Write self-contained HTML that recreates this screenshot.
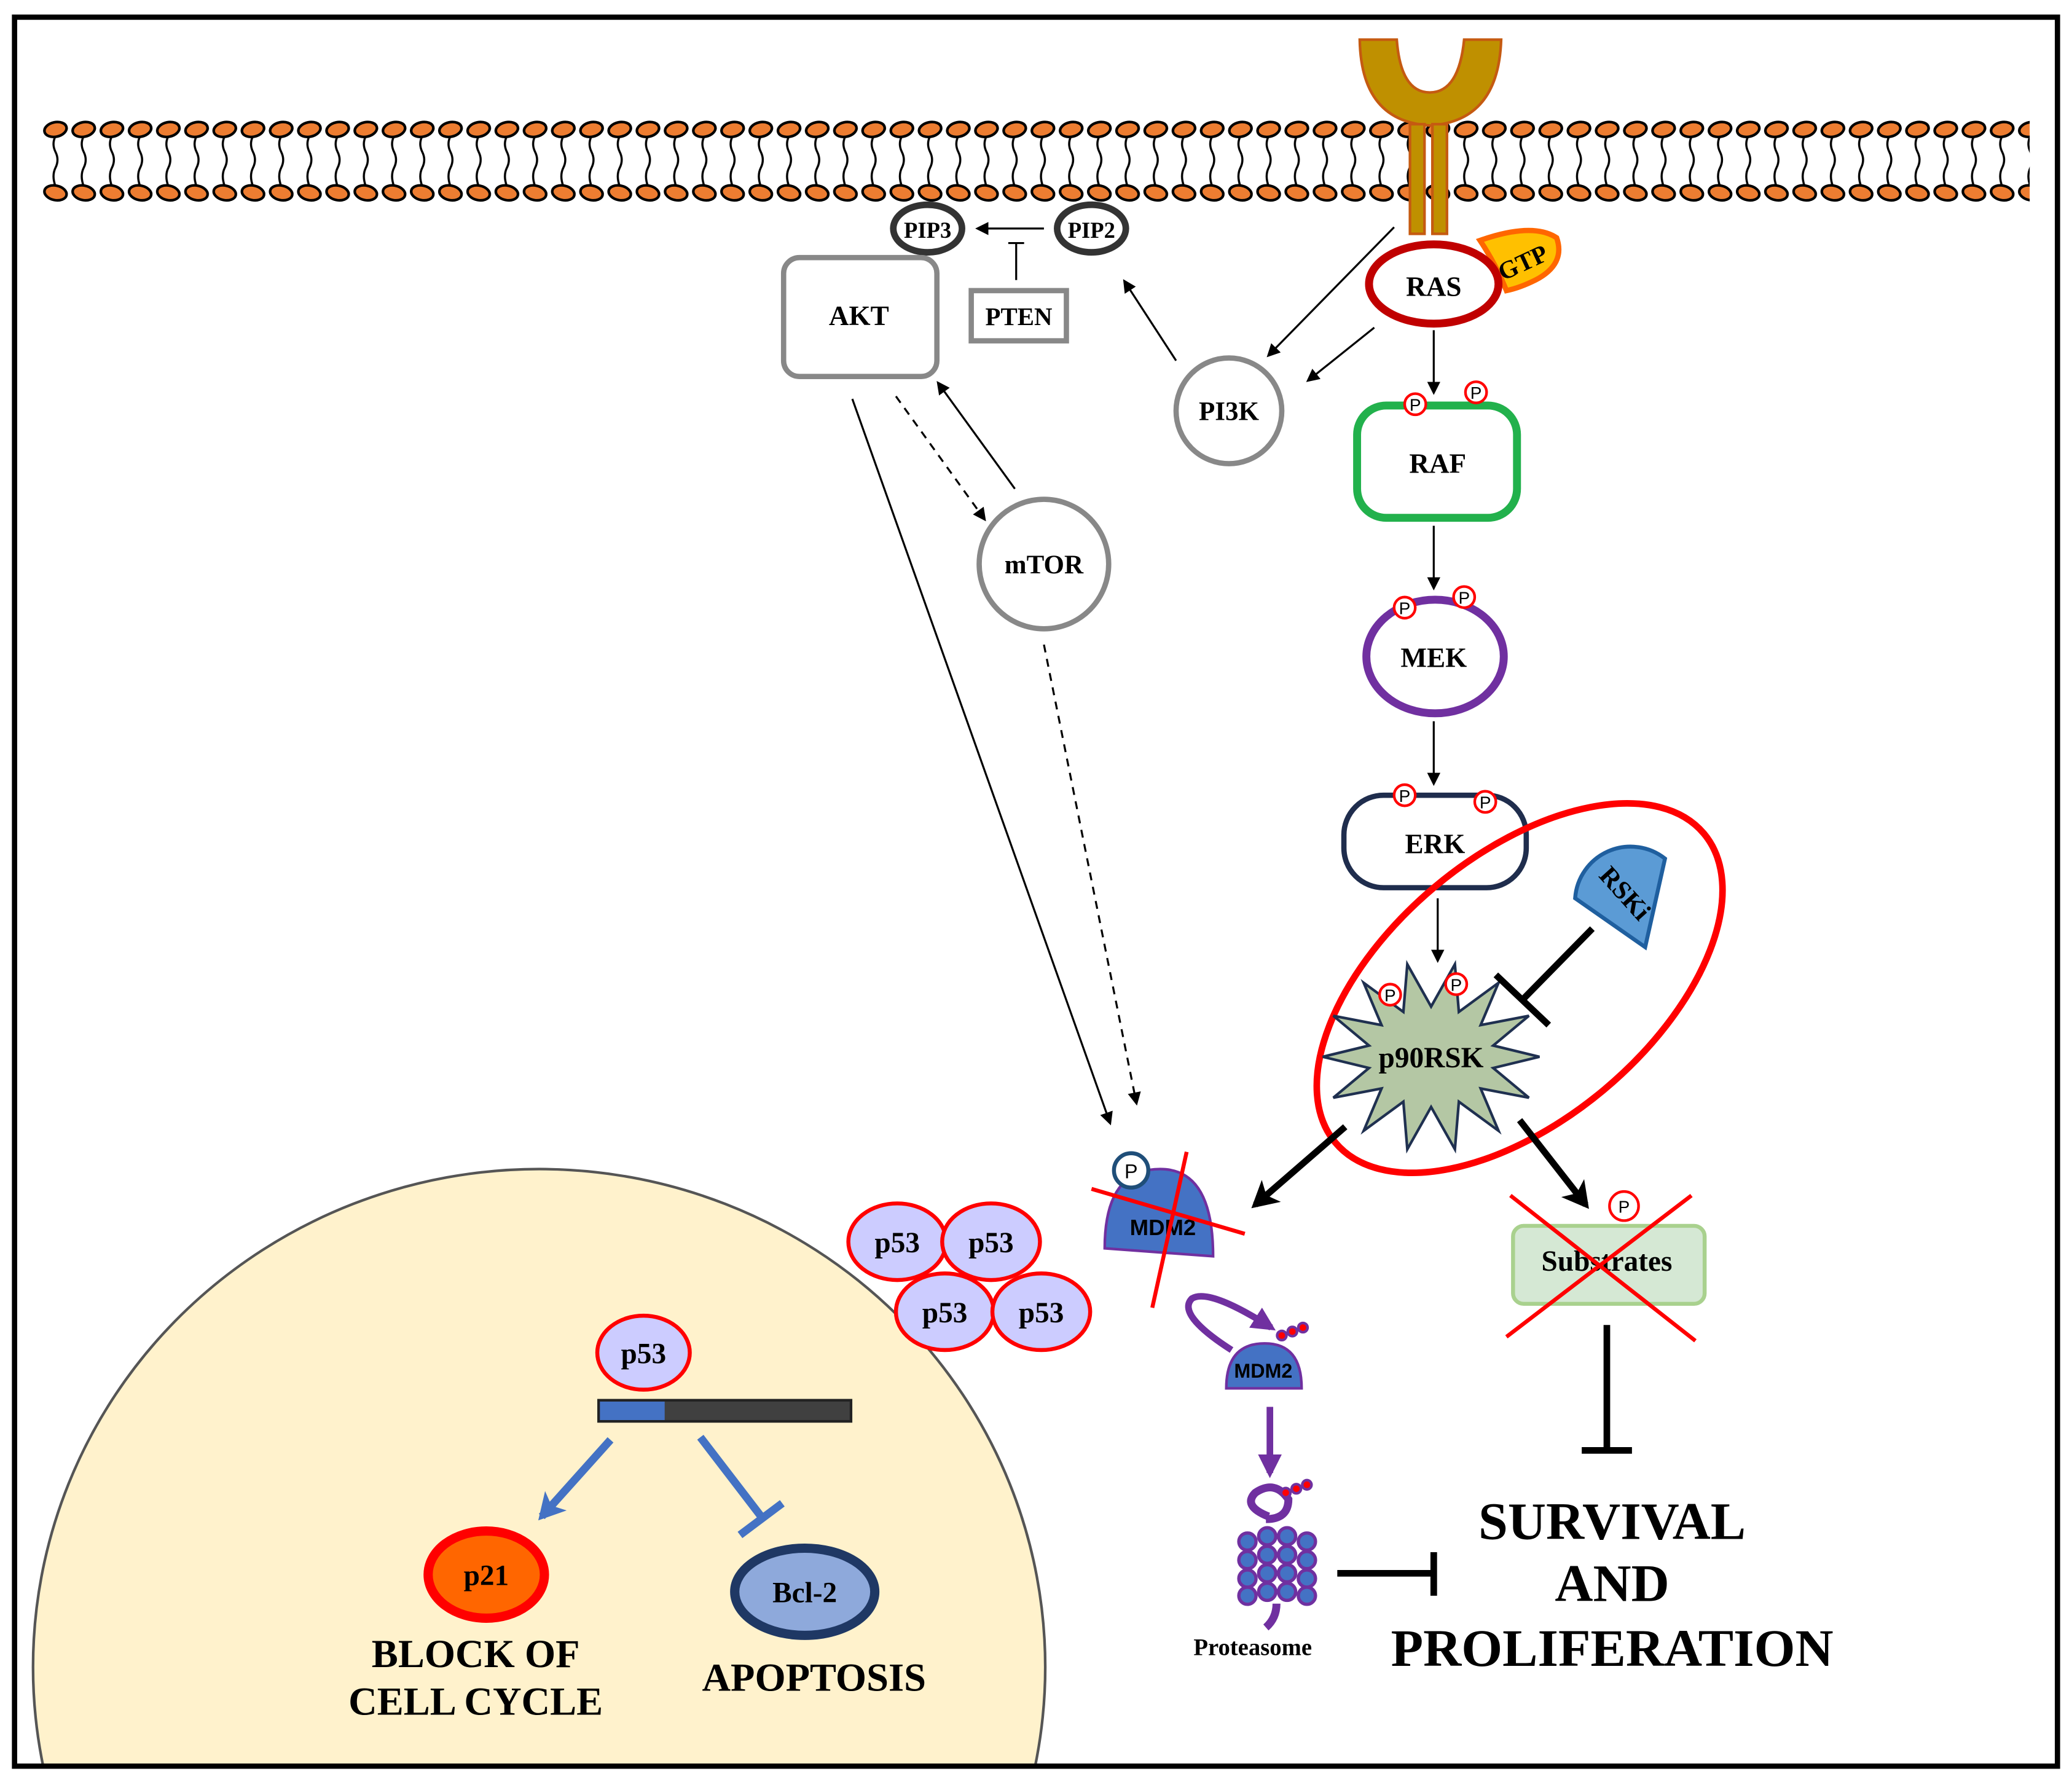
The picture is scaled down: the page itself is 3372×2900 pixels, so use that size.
<!DOCTYPE html>
<html><head><meta charset="utf-8"><style>html,body{margin:0;padding:0;background:#fff;width:3372px;height:2900px;overflow:hidden}svg{display:block}</style></head>
<body>
<svg width="3372" height="2900" viewBox="0 0 1568 1349" preserveAspectRatio="none" xmlns="http://www.w3.org/2000/svg" font-family="'Liberation Serif', serif" font-weight="bold">
<defs>
<pattern id="lip" x="31" y="0" width="21.35" height="1349" patternUnits="userSpaceOnUse">
<path d="M11 103 q-3 6 0 12 q3 6 0 12 q-3 6 0 14" fill="none" stroke="#000" stroke-width="1.6"/>
<ellipse cx="11" cy="98" rx="8.5" ry="5.5" transform="rotate(-12 11 98)" fill="#ed7d31" stroke="#000" stroke-width="2"/>
<ellipse cx="11" cy="146" rx="8.5" ry="5.5" transform="rotate(12 11 146)" fill="#ed7d31" stroke="#000" stroke-width="2"/>
</pattern>
<marker id="a" markerWidth="10" markerHeight="10" refX="8" refY="5" orient="auto" markerUnits="userSpaceOnUse"><path d="M0,0 L10,5 L0,10 z" fill="#000"/></marker>
<marker id="ab" markerWidth="22" markerHeight="22" refX="16" refY="11" orient="auto" markerUnits="userSpaceOnUse"><path d="M0,0 L20,11 L0,22 L5,11 z" fill="#000"/></marker>
<marker id="abl" markerWidth="22" markerHeight="22" refX="16" refY="11" orient="auto" markerUnits="userSpaceOnUse"><path d="M0,0 L20,11 L0,22 L5,11 z" fill="#4472c4"/></marker>
<marker id="ap" markerWidth="18" markerHeight="18" refX="14" refY="9" orient="auto" markerUnits="userSpaceOnUse"><path d="M0,0 L18,9 L0,18 z" fill="#7030a0"/></marker>
<clipPath id="cl"><rect x="12" y="14" width="1544" height="1322"/></clipPath>
</defs>
<rect x="0" y="0" width="1568" height="1349" fill="#fff"/>
<ellipse cx="408" cy="1262" rx="383" ry="377" fill="#fff2cc" stroke="#555" stroke-width="2" clip-path="url(#cl)"/>
<rect x="11" y="13" width="1546" height="1324" fill="none" stroke="#000" stroke-width="4"/>
<rect x="31" y="85" width="1505" height="70" fill="url(#lip)"/>
<path d="M1029 30 L1057 30 Q1060 70 1082 70 Q1104 70 1108 30 L1136 30 Q1134 92 1082 95 Q1030 92 1029 30 z" fill="#bf9000" stroke="#c55a11" stroke-width="2"/>
<rect x="1067" y="94" width="11" height="83" fill="#bf9000" stroke="#c55a11" stroke-width="2"/>
<rect x="1084" y="94" width="11" height="83" fill="#bf9000" stroke="#c55a11" stroke-width="2"/>
<ellipse cx="702" cy="173" rx="26" ry="18" fill="#fff" stroke="#333" stroke-width="5"/>
<text x="702" y="180" font-size="17" text-anchor="middle">PIP3</text>
<ellipse cx="826" cy="173" rx="26" ry="18" fill="#fff" stroke="#333" stroke-width="5"/>
<text x="826" y="180" font-size="17" text-anchor="middle">PIP2</text>
<line x1="790" y1="173" x2="740" y2="173" stroke="#000" stroke-width="1.5" marker-end="url(#a)"/>
<line x1="769" y1="212" x2="769" y2="184" stroke="#000" stroke-width="1.5"/><line x1="763" y1="184" x2="775" y2="184" stroke="#000" stroke-width="1.5"/>
<rect x="735" y="220" width="72" height="38" fill="#fff" stroke="#888" stroke-width="4"/>
<text x="771" y="246" font-size="19" text-anchor="middle">PTEN</text>
<rect x="593" y="195" width="116" height="90" rx="12" fill="#fff" stroke="#888" stroke-width="4"/>
<text x="650" y="246" font-size="21" text-anchor="middle">AKT</text>
<circle cx="930" cy="311" r="40" fill="#fff" stroke="#888" stroke-width="4"/>
<text x="930" y="318" font-size="20" text-anchor="middle">PI3K</text>
<circle cx="790" cy="427" r="49" fill="#fff" stroke="#888" stroke-width="4"/>
<text x="790" y="434" font-size="20" text-anchor="middle">mTOR</text>
<path d="M1120 182 Q1160 168 1178 180 Q1185 200 1162 212 Q1150 218 1140 220 Q1132 200 1120 182 z" fill="#ffc000" stroke="#ff6600" stroke-width="4"/>
<text x="1153" y="205" font-size="19" text-anchor="middle" transform="rotate(-25 1153 200)">GTP</text>
<ellipse cx="1085" cy="215" rx="49" ry="30" fill="#fff" stroke="#c00000" stroke-width="6"/>
<text x="1085" y="224" font-size="21" text-anchor="middle">RAS</text>
<line x1="1055" y1="172" x2="960" y2="269" stroke="#000" stroke-width="1.5" marker-end="url(#a)"/>
<line x1="1040" y1="248" x2="990" y2="288" stroke="#000" stroke-width="1.5" marker-end="url(#a)"/>
<line x1="890" y1="273" x2="851" y2="213" stroke="#000" stroke-width="1.5" marker-end="url(#a)"/>
<line x1="1085" y1="250" x2="1085" y2="297" stroke="#000" stroke-width="1.5" marker-end="url(#a)"/>
<rect x="1027" y="307" width="121" height="85" rx="22" fill="#fff" stroke="#22b14c" stroke-width="6"/>
<text x="1088" y="358" font-size="21" text-anchor="middle">RAF</text>
<line x1="1085" y1="398" x2="1085" y2="445" stroke="#000" stroke-width="1.5" marker-end="url(#a)"/>
<ellipse cx="1086" cy="497" rx="52" ry="43" fill="#fff" stroke="#7030a0" stroke-width="6"/>
<text x="1085" y="505" font-size="21" text-anchor="middle">MEK</text>
<line x1="1085" y1="546" x2="1085" y2="593" stroke="#000" stroke-width="1.5" marker-end="url(#a)"/>
<rect x="1017" y="602" width="138" height="70" rx="30" fill="#fff" stroke="#1f2d4d" stroke-width="4"/>
<text x="1086" y="646" font-size="21" text-anchor="middle">ERK</text>
<line x1="1088" y1="680" x2="1088" y2="727" stroke="#000" stroke-width="1.5" marker-end="url(#a)"/>
<g font-size="13" font-family="'Liberation Sans',sans-serif" font-weight="normal" text-anchor="middle">
<circle cx="1071" cy="306" r="8" fill="#fff" stroke="red" stroke-width="2"/><text x="1071" y="311">P</text>
<circle cx="1117" cy="297" r="8" fill="#fff" stroke="red" stroke-width="2"/><text x="1117" y="302">P</text>
<circle cx="1063" cy="460" r="8" fill="#fff" stroke="red" stroke-width="2"/><text x="1063" y="465">P</text>
<circle cx="1108" cy="452" r="8" fill="#fff" stroke="red" stroke-width="2"/><text x="1108" y="457">P</text>
<circle cx="1063" cy="602" r="8" fill="#fff" stroke="red" stroke-width="2"/><text x="1063" y="607">P</text>
<circle cx="1124" cy="607" r="8" fill="#fff" stroke="red" stroke-width="2"/><text x="1124" y="612">P</text>
</g>
<ellipse cx="1150" cy="748" rx="182" ry="100" transform="rotate(-40 1150 748)" fill="none" stroke="red" stroke-width="5"/>
<polygon points="1165,800 1130,791.5 1157,769 1120.5,776 1134,744 1104,766 1101,730 1083,762 1065,730 1062,766 1032,744 1045.5,776 1009,769 1036,791.5 1001,800 1036,808.5 1009,831 1045.5,824 1032,856 1062,834 1065,870 1083,838 1101,870 1104,834 1134,856 1120.5,824 1157,831 1130,808.5" fill="#b4c7a4" stroke="#1f3050" stroke-width="2"/>
<text x="1083" y="808" font-size="22" text-anchor="middle">p90RSK</text>
<g font-size="13" font-family="'Liberation Sans',sans-serif" font-weight="normal" text-anchor="middle">
<circle cx="1052" cy="753" r="8" fill="#fff" stroke="red" stroke-width="2"/><text x="1052" y="758">P</text>
<circle cx="1102" cy="745" r="8" fill="#fff" stroke="red" stroke-width="2"/><text x="1102" y="750">P</text>
</g>
<path d="M1192 680 A42 42 0 0 1 1260 650 L1245 717 z" fill="#5b9bd5" stroke="#1f5f9f" stroke-width="3"/>
<text x="1230" y="683" font-size="20" text-anchor="middle" transform="rotate(48 1230 676)">RSKi</text>
<line x1="1205" y1="703" x2="1152" y2="757" stroke="#000" stroke-width="5"/>
<line x1="1132" y1="738" x2="1172" y2="776" stroke="#000" stroke-width="5"/>
<line x1="1018" y1="853" x2="950" y2="912" stroke="#000" stroke-width="5" marker-end="url(#ab)"/>
<line x1="1150" y1="848" x2="1200" y2="912" stroke="#000" stroke-width="5" marker-end="url(#ab)"/>
<line x1="678" y1="300" x2="745" y2="393" stroke="#000" stroke-width="1.5" stroke-dasharray="6,5" marker-end="url(#a)"/>
<line x1="768" y1="370" x2="710" y2="290" stroke="#000" stroke-width="1.5" marker-end="url(#a)"/>
<line x1="645" y1="302" x2="840" y2="850" stroke="#000" stroke-width="1.5" marker-end="url(#a)"/>
<line x1="790" y1="488" x2="860" y2="835" stroke="#000" stroke-width="1.5" stroke-dasharray="6,5" marker-end="url(#a)"/>
<path d="M836 945 Q836 885 878 885 Q918 885 918 951 z" fill="#4472c4" stroke="#7030a0" stroke-width="2"/>
<text x="880" y="935" font-size="17" font-family="'Liberation Sans',sans-serif" text-anchor="middle">MDM2</text>
<circle cx="856" cy="886" r="13" fill="#fff" stroke="#1f4e79" stroke-width="3"/>
<text x="856" y="892" font-size="15" font-family="'Liberation Sans',sans-serif" text-anchor="middle" font-weight="normal">P</text>
<line x1="826" y1="900" x2="942" y2="934" stroke="red" stroke-width="3"/>
<line x1="898" y1="872" x2="872" y2="990" stroke="red" stroke-width="3"/>
<g fill="#ccccff" stroke="red" stroke-width="3">
<ellipse cx="679" cy="940" rx="37" ry="29"/><ellipse cx="750" cy="940" rx="37" ry="29"/>
<ellipse cx="715" cy="993" rx="37" ry="29"/><ellipse cx="788" cy="993" rx="37" ry="29"/>
</g>
<g font-size="22" text-anchor="middle"><text x="679" y="948">p53</text><text x="750" y="948">p53</text><text x="715" y="1001">p53</text><text x="788" y="1001">p53</text></g>
<path d="M932 1022 Q890 995 902 983 Q915 975 962 1005" fill="none" stroke="#7030a0" stroke-width="5" marker-end="url(#ap)"/>
<path d="M928 1051 Q928 1017 957 1017 Q985 1017 985 1051 z" fill="#4472c4" stroke="#7030a0" stroke-width="2"/>
<text x="956" y="1043" font-size="15" font-family="'Liberation Sans',sans-serif" text-anchor="middle">MDM2</text>
<g fill="red" stroke="#7030a0" stroke-width="2"><circle cx="970" cy="1011" r="3.5"/><circle cx="978" cy="1008" r="3.5"/><circle cx="986" cy="1005" r="3.5"/></g>
<line x1="961" y1="1065" x2="961" y2="1115" stroke="#7030a0" stroke-width="5" marker-end="url(#ap)"/>
<path d="M960 1148 Q940 1140 950 1130 Q965 1120 975 1135 Q975 1150 958 1150" fill="none" stroke="#7030a0" stroke-width="6"/>
<g fill="red" stroke="#7030a0" stroke-width="2"><circle cx="973" cy="1130" r="3.5"/><circle cx="981" cy="1127" r="3.5"/><circle cx="989" cy="1124" r="3.5"/></g>
<g fill="#4472c4" stroke="#7030a0" stroke-width="2.5">
<circle cx="944" cy="1167" r="6.5"/><circle cx="959" cy="1163" r="6.5"/><circle cx="974" cy="1163" r="6.5"/><circle cx="989" cy="1167" r="6.5"/>
<circle cx="944" cy="1181" r="6.5"/><circle cx="959" cy="1177" r="6.5"/><circle cx="974" cy="1177" r="6.5"/><circle cx="989" cy="1181" r="6.5"/>
<circle cx="944" cy="1195" r="6.5"/><circle cx="959" cy="1191" r="6.5"/><circle cx="974" cy="1191" r="6.5"/><circle cx="989" cy="1195" r="6.5"/>
<circle cx="944" cy="1208" r="6.5"/><circle cx="959" cy="1205" r="6.5"/><circle cx="974" cy="1205" r="6.5"/><circle cx="989" cy="1208" r="6.5"/>
</g>
<path d="M966 1214 Q966 1225 958 1232" fill="none" stroke="#7030a0" stroke-width="6"/>
<text x="948" y="1253" font-size="18" text-anchor="middle">Proteasome</text>
<line x1="1012" y1="1191" x2="1085" y2="1191" stroke="#000" stroke-width="5"/>
<line x1="1085" y1="1175" x2="1085" y2="1208" stroke="#000" stroke-width="5"/>
<rect x="1145" y="928" width="145" height="59" rx="8" fill="#d5e8d4" stroke="#a9d18e" stroke-width="3"/>
<text x="1216" y="962" font-size="22" text-anchor="middle">Substrates</text>
<circle cx="1229" cy="913" r="11" fill="#fff" stroke="red" stroke-width="2"/>
<text x="1229" y="918" font-size="13" font-family="'Liberation Sans',sans-serif" font-weight="normal" text-anchor="middle">P</text>
<line x1="1143" y1="905" x2="1283" y2="1015" stroke="red" stroke-width="3"/>
<line x1="1140" y1="1012" x2="1280" y2="905" stroke="red" stroke-width="3"/>
<line x1="1216" y1="1003" x2="1216" y2="1098" stroke="#000" stroke-width="5"/>
<line x1="1197" y1="1098" x2="1235" y2="1098" stroke="#000" stroke-width="5"/>
<g font-size="40" text-anchor="middle"><text x="1220" y="1165">SURVIVAL</text><text x="1220" y="1212">AND</text><text x="1220" y="1261">PROLIFERATION</text></g>
<ellipse cx="487" cy="1024" rx="35" ry="28" fill="#ccccff" stroke="red" stroke-width="3"/>
<text x="487" y="1032" font-size="22" text-anchor="middle">p53</text>
<rect x="453" y="1060" width="191" height="16" fill="#404040" stroke="#222" stroke-width="2"/>
<rect x="454" y="1061" width="49" height="14" fill="#4472c4"/>
<line x1="462" y1="1090" x2="410" y2="1148" stroke="#4472c4" stroke-width="6" marker-end="url(#abl)"/>
<line x1="530" y1="1088" x2="576" y2="1148" stroke="#4472c4" stroke-width="6"/>
<line x1="560" y1="1162" x2="592" y2="1138" stroke="#4472c4" stroke-width="6"/>
<ellipse cx="368" cy="1192" rx="44" ry="33" fill="#ff6600" stroke="red" stroke-width="7"/>
<text x="368" y="1200" font-size="22" text-anchor="middle">p21</text>
<ellipse cx="609" cy="1205" rx="53" ry="33" fill="#8ea9db" stroke="#1f3864" stroke-width="7"/>
<text x="609" y="1213" font-size="22" text-anchor="middle">Bcl-2</text>
<g font-size="30" text-anchor="middle"><text x="360" y="1262">BLOCK OF</text><text x="360" y="1298">CELL CYCLE</text><text x="616" y="1280">APOPTOSIS</text></g>
</svg>
</body></html>
